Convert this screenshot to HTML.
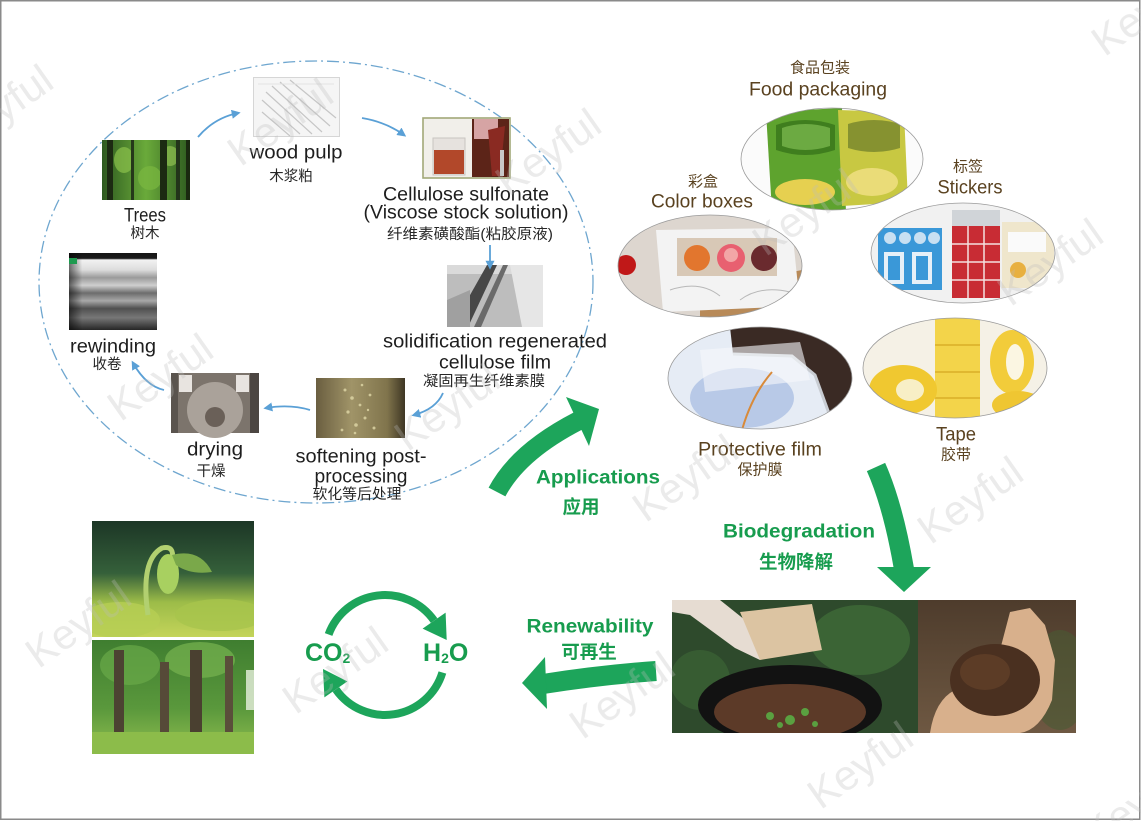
<!DOCTYPE html>
<html><head><meta charset="utf-8">
<style>
html,body{margin:0;padding:0;background:#fff;}
svg{display:block;}
text{font-family:"Liberation Sans","Noto Sans CJK SC",sans-serif;dominant-baseline:central;}
.en{font-size:19px;fill:#1e1e1e;}
.cn{font-size:14.5px;fill:#262626;}
.br{font-size:19px;fill:#5a4220;}
.brc{font-size:15px;fill:#5a4220;}
.g{font-size:19px;fill:#179c4e;font-weight:bold;}
.gc{font-size:18.5px;fill:#179c4e;font-weight:bold;}
</style></head><body>
<svg width="1141" height="821" viewBox="0 0 1141 821" xmlns="http://www.w3.org/2000/svg">
<defs>
  <marker id="ah" viewBox="0 0 10 10" refX="7" refY="5" markerWidth="5" markerHeight="5" orient="auto">
    <path d="M0,0 L10,5 L0,10 z" fill="#5aa0d6"/>
  </marker>
  <clipPath id="cFood"><ellipse cx="832" cy="159" rx="91" ry="51"/></clipPath>
  <clipPath id="cBox"><ellipse cx="710" cy="266" rx="92" ry="51"/></clipPath>
  <clipPath id="cStk"><ellipse cx="963" cy="253" rx="92" ry="50"/></clipPath>
  <clipPath id="cFilm"><ellipse cx="760" cy="378" rx="92" ry="51"/></clipPath>
  <clipPath id="cTape"><ellipse cx="955" cy="368" rx="92" ry="50"/></clipPath>
  <clipPath id="cSeed"><rect x="92" y="521" width="162" height="116"/></clipPath>
  <clipPath id="cFor"><rect x="92" y="640" width="162" height="114"/></clipPath>
  <clipPath id="cCompL"><rect x="672" y="600" width="246" height="133"/></clipPath>
  <clipPath id="cCompR"><rect x="918" y="600" width="158" height="133"/></clipPath>
  <linearGradient id="gRew" x1="0" y1="0" x2="0" y2="1">
    <stop offset="0" stop-color="#161616"/><stop offset="0.07" stop-color="#1a1a1a"/>
    <stop offset="0.09" stop-color="#f2f2f2"/><stop offset="0.22" stop-color="#dcdcdc"/>
    <stop offset="0.32" stop-color="#9a9a9a"/><stop offset="0.42" stop-color="#cfcfcf"/>
    <stop offset="0.52" stop-color="#6c6c6c"/><stop offset="0.62" stop-color="#a8a8a8"/>
    <stop offset="0.72" stop-color="#505050"/><stop offset="0.84" stop-color="#777"/>
    <stop offset="1" stop-color="#262626"/>
  </linearGradient>
  <linearGradient id="gRewL" x1="0" y1="0" x2="1" y2="0">
    <stop offset="0" stop-color="#000" stop-opacity=".55"/><stop offset="0.15" stop-color="#000" stop-opacity="0"/>
  </linearGradient>
  <linearGradient id="gSeed" x1="0" y1="0" x2="0" y2="1">
    <stop offset="0" stop-color="#1c3626"/><stop offset="0.45" stop-color="#35603a"/>
    <stop offset="0.7" stop-color="#9cbc48"/><stop offset="1" stop-color="#c4d45a"/>
  </linearGradient>
  <linearGradient id="gFor" x1="0" y1="0" x2="0" y2="1">
    <stop offset="0" stop-color="#3f7e30"/><stop offset="0.6" stop-color="#5a983c"/>
    <stop offset="0.85" stop-color="#7cb048"/><stop offset="1" stop-color="#8cc050"/>
  </linearGradient>
  <linearGradient id="gTree" x1="0" y1="0" x2="1" y2="0">
    <stop offset="0" stop-color="#2e5a20"/><stop offset="0.5" stop-color="#6aaa3a"/><stop offset="1" stop-color="#2e5a20"/>
  </linearGradient>
  <linearGradient id="gSoft" x1="0" y1="0" x2="1" y2="0">
    <stop offset="0" stop-color="#6a5e40"/><stop offset="0.4" stop-color="#a09468"/><stop offset="0.8" stop-color="#80744c"/><stop offset="1" stop-color="#3e3624"/>
  </linearGradient>
  <linearGradient id="gSoil" x1="0" y1="0" x2="0" y2="1">
    <stop offset="0" stop-color="#4e3c2c"/><stop offset="1" stop-color="#6e5842"/>
  </linearGradient>
</defs>

<!-- outer border -->
<rect x="0.75" y="0.75" width="1139" height="818.5" fill="#fff" stroke="#8a8a8a" stroke-width="1.5"/>

<!-- dashed ellipse -->
<ellipse cx="316" cy="282" rx="277" ry="221" fill="none" stroke="#6ea6cf" stroke-width="1.3" stroke-dasharray="12 4 2 4"/>

<!-- Trees photo -->
<g>
  <rect x="102" y="140" width="88" height="60" fill="url(#gTree)"/>
  <ellipse cx="124" cy="160" rx="10" ry="13" fill="#8cc24c" opacity=".7"/>
  <ellipse cx="150" cy="178" rx="12" ry="12" fill="#7ab840" opacity=".7"/>
  <ellipse cx="170" cy="156" rx="9" ry="10" fill="#9ccc58" opacity=".6"/>
  <rect x="107" y="140" width="6" height="60" fill="#1c2a12"/>
  <rect x="131" y="140" width="3" height="60" fill="#25381a"/>
  <rect x="160" y="140" width="7" height="60" fill="#1c2a12"/>
  <rect x="176" y="140" width="4" height="60" fill="#22341a"/>
  <rect x="186" y="140" width="4" height="60" fill="#1a2810"/>
</g>

<!-- wood pulp photo -->
<g>
  <rect x="253.5" y="77.5" width="86" height="59" fill="#f5f5f5" stroke="#d6d6d6"/>
  <path d="M262,100 L300,134 M266,92 L312,134 M272,86 L322,132 M280,82 L330,126 M290,80 L336,118 M262,112 L290,136" stroke="#c6c6c6" stroke-width="1.2" fill="none"/>
  <path d="M258,84 L334,84" stroke="#e2e2e2"/>
</g>

<!-- cellulose photo -->
<g>
  <rect x="423" y="118" width="87" height="60" fill="#f1efea" stroke="#a2a878" stroke-width="1.6"/>
  <rect x="433" y="138" width="32" height="37" fill="#e6e2de" stroke="#c8c4c0"/>
  <rect x="434" y="150" width="30" height="24" fill="#b2482a"/>
  <rect x="472" y="119" width="37" height="58" fill="#5c2418"/>
  <rect x="474" y="119" width="24" height="20" fill="#d6a4a4"/>
  <path d="M488,130 L505,126 L500,176 L492,176 z" fill="#8a2a22"/>
  <rect x="500" y="150" width="4" height="26" fill="#c8c8c8"/>
</g>

<!-- solidification photo -->
<g>
  <rect x="447" y="265" width="96" height="62" fill="#bdbdbd"/>
  <rect x="447" y="265" width="96" height="9" fill="#dadada"/>
  <path d="M452,327 L468,327 L497,265 L487,265 z" fill="#474747"/>
  <path d="M474,327 L481,327 L508,265 L503,265 z" fill="#6a6a6a"/>
  <path d="M510,265 L543,265 L543,327 L522,327 z" fill="#e6e6e6"/>
  <path d="M447,300 L470,290 L470,327 L447,327 z" fill="#a0a0a0"/>
</g>

<!-- softening photo -->
<g>
  <rect x="316" y="378" width="89" height="60" fill="url(#gSoft)"/>
  <g fill="#dcd4a4" opacity=".85">
    <circle cx="345" cy="390" r="1.5"/><circle cx="352" cy="398" r="1.8"/><circle cx="360" cy="405" r="1.4"/>
    <circle cx="348" cy="412" r="1.6"/><circle cx="365" cy="418" r="1.5"/><circle cx="356" cy="425" r="1.8"/>
    <circle cx="370" cy="395" r="1.4"/><circle cx="362" cy="385" r="1.3"/><circle cx="374" cy="428" r="1.5"/>
    <circle cx="342" cy="430" r="1.4"/><circle cx="368" cy="410" r="1.2"/><circle cx="355" cy="433" r="1.3"/>
  </g>
</g>

<!-- drying photo -->
<g>
  <rect x="171" y="373" width="88" height="60" fill="#7c746c"/>
  <circle cx="215" cy="410" r="28" fill="#aaa29a"/>
  <circle cx="215" cy="417" r="10" fill="#6a6058"/>
  <rect x="179" y="375" width="13" height="17" fill="#e8e4e0"/>
  <rect x="236" y="375" width="13" height="17" fill="#e8e4e0"/>
  <rect x="250" y="373" width="9" height="60" fill="#4c4642"/>
  <rect x="171" y="373" width="7" height="60" fill="#5a544e"/>
</g>

<!-- rewinding photo -->
<g>
  <rect x="69" y="253" width="88" height="77" fill="url(#gRew)"/>
  <rect x="69" y="253" width="88" height="77" fill="url(#gRewL)"/>
  <rect x="69" y="258" width="8" height="6" fill="#1f9a50"/>
</g>

<!-- blue connectors -->
<g fill="none" stroke="#5aa0d6" stroke-width="1.8" marker-end="url(#ah)">
  <path d="M198,137 Q214,118 238,113"/>
  <path d="M362,118 Q386,122 404,135"/>
  <path d="M490,245 L490,267"/>
  <path d="M443,393 Q436,409 414,415"/>
  <path d="M310,410 Q290,404 266,408"/>
  <path d="M164,390 Q146,386 133,363"/>
</g>

<!-- cycle labels -->
<text class="en" x="145" y="216" text-anchor="middle" textLength="42" lengthAdjust="spacingAndGlyphs">Trees</text>
<text class="cn" x="145" y="234" text-anchor="middle">树木</text>
<text class="en" x="296" y="153" text-anchor="middle" textLength="93" lengthAdjust="spacingAndGlyphs">wood pulp</text>
<text class="cn" x="291" y="177" text-anchor="middle">木浆粕</text>
<text class="en" x="466" y="195" text-anchor="middle" textLength="166" lengthAdjust="spacingAndGlyphs">Cellulose sulfonate</text>
<text class="en" x="466" y="213" text-anchor="middle" textLength="205" lengthAdjust="spacingAndGlyphs">(Viscose stock solution)</text>
<text class="cn" x="470" y="235" text-anchor="middle" textLength="166" lengthAdjust="spacingAndGlyphs">纤维素磺酸酯(粘胶原液)</text>
<text class="en" x="495" y="342" text-anchor="middle" textLength="224" lengthAdjust="spacingAndGlyphs">solidification regenerated</text>
<text class="en" x="495" y="363" text-anchor="middle" textLength="112" lengthAdjust="spacingAndGlyphs">cellulose film</text>
<text class="cn" x="484" y="382" text-anchor="middle" textLength="122" lengthAdjust="spacingAndGlyphs">凝固再生纤维素膜</text>
<text class="en" x="361" y="457" text-anchor="middle" textLength="131" lengthAdjust="spacingAndGlyphs">softening post-</text>
<text class="en" x="361" y="477" text-anchor="middle" textLength="93" lengthAdjust="spacingAndGlyphs">processing</text>
<text class="cn" x="357" y="495" text-anchor="middle" textLength="89" lengthAdjust="spacingAndGlyphs">软化等后处理</text>
<text class="en" x="215" y="450" text-anchor="middle" textLength="56" lengthAdjust="spacingAndGlyphs">drying</text>
<text class="cn" x="211" y="472" text-anchor="middle">干燥</text>
<text class="en" x="113" y="347" text-anchor="middle" textLength="86" lengthAdjust="spacingAndGlyphs">rewinding</text>
<text class="cn" x="107" y="365" text-anchor="middle">收卷</text>

<!-- Food packaging ellipse -->
<g clip-path="url(#cFood)">
  <rect x="740" y="108" width="184" height="102" fill="#fbfbfb"/>
  <path d="M766,112 L842,108 L846,212 L772,212 z" fill="#5ea32e"/>
  <path d="M776,125 Q805,115 835,125 L835,150 Q805,160 776,150 z" fill="#3f7e1e"/>
  <path d="M782,128 Q805,120 830,128 L830,146 Q805,154 782,146 z" fill="#8ac85a" opacity=".6"/>
  <ellipse cx="805" cy="192" rx="30" ry="13" fill="#e6d050"/>
  <path d="M838,110 L904,112 L908,202 L842,206 z" fill="#c8c842"/>
  <path d="M848,124 Q874,116 900,124 L900,148 Q874,156 848,148 z" fill="#6a7a2a" opacity=".7"/>
  <ellipse cx="872" cy="182" rx="26" ry="14" fill="#eadc78"/>
</g>
<ellipse cx="832" cy="159" rx="91" ry="51" fill="none" stroke="#9a9a9a" stroke-width="0.8"/>

<!-- Color boxes ellipse -->
<g clip-path="url(#cBox)">
  <rect x="618" y="215" width="184" height="102" fill="#ddd6cf"/>
  <path d="M700,290 L802,270 L802,317 L700,317 z" fill="#b88a58"/>
  <circle cx="626" cy="265" r="10" fill="#c01818"/>
  <path d="M656,230 L792,228 L800,306 L663,312 z" fill="#f3f3f3"/>
  <path d="M670,290 Q700,280 720,296 M740,300 Q760,285 790,292" stroke="#b8b8b8" fill="none"/>
  <rect x="677" y="238" width="100" height="38" fill="#d8c8b6"/>
  <circle cx="697" cy="258" r="13" fill="#e2762e"/>
  <circle cx="731" cy="258" r="14" fill="#e86070"/>
  <circle cx="731" cy="255" r="7" fill="#f2a6a6"/>
  <circle cx="764" cy="258" r="13" fill="#6a2a2e"/>
</g>
<ellipse cx="710" cy="266" rx="92" ry="51" fill="none" stroke="#9a9a9a" stroke-width="0.8"/>

<!-- Stickers ellipse -->
<g clip-path="url(#cStk)">
  <rect x="871" y="203" width="184" height="100" fill="#f1f1f1"/>
  <rect x="878" y="228" width="64" height="62" fill="#3a98d8"/>
  <circle cx="890" cy="238" r="6" fill="#c8e0f2"/><circle cx="905" cy="238" r="6" fill="#c8e0f2"/>
  <circle cx="920" cy="238" r="6" fill="#c8e0f2"/><circle cx="934" cy="238" r="6" fill="#c8e0f2"/>
  <rect x="884" y="252" width="20" height="32" fill="#e6f0f8"/><rect x="912" y="252" width="20" height="32" fill="#e6f0f8"/>
  <rect x="888" y="256" width="12" height="24" fill="#3a98d8"/><rect x="916" y="256" width="12" height="24" fill="#3a98d8"/>
  <rect x="952" y="210" width="48" height="18" fill="#d0d4d8"/>
  <rect x="952" y="226" width="48" height="72" fill="#c82c34"/>
  <path d="M952,244 H1000 M952,262 H1000 M952,280 H1000 M968,226 V298 M984,226 V298" stroke="#f4e0e0" stroke-width="1.5"/>
  <rect x="1002" y="222" width="52" height="66" fill="#efe6cc"/>
  <rect x="1008" y="232" width="38" height="20" fill="#fafafa"/>
  <circle cx="1018" cy="270" r="8" fill="#e8b040"/>
</g>
<ellipse cx="963" cy="253" rx="92" ry="50" fill="none" stroke="#9a9a9a" stroke-width="0.8"/>

<!-- Protective film ellipse -->
<g clip-path="url(#cFilm)">
  <rect x="668" y="327" width="184" height="102" fill="#e6ecf5"/>
  <ellipse cx="742" cy="398" rx="52" ry="30" fill="#9ab2de" opacity=".6"/>
  <path d="M730,327 L860,327 L860,430 L835,430 L815,375 L792,356 L733,354 z" fill="#3a2a24"/>
  <path d="M733,354 L792,356 L815,375 L835,430" stroke="#c8ccd2" stroke-width="3" fill="none"/>
  <path d="M700,350 L800,342 L810,380 L705,392 z" fill="#f6f8fb" opacity=".6"/>
  <path d="M742,430 Q752,395 772,372" stroke="#d88a3a" stroke-width="2" fill="none"/>
</g>
<ellipse cx="760" cy="378" rx="92" ry="51" fill="none" stroke="#9a9a9a" stroke-width="0.8"/>

<!-- Tape ellipse -->
<g clip-path="url(#cTape)">
  <rect x="863" y="318" width="184" height="100" fill="#f5f1e6"/>
  <rect x="935" y="318" width="45" height="100" fill="#f3d44a"/>
  <path d="M935,345 H980 M935,372 H980 M935,398 H980" stroke="#e0b830" stroke-width="2"/>
  <ellipse cx="903" cy="390" rx="34" ry="25" fill="#f0c830"/>
  <ellipse cx="910" cy="390" rx="14" ry="11" fill="#f8efc6"/>
  <ellipse cx="1012" cy="362" rx="22" ry="32" fill="#f2cc3a"/>
  <ellipse cx="1015" cy="362" rx="9" ry="18" fill="#fbf6e2"/>
  <ellipse cx="1018" cy="405" rx="26" ry="14" fill="#efc632"/>
</g>
<ellipse cx="955" cy="368" rx="92" ry="50" fill="none" stroke="#9a9a9a" stroke-width="0.8"/>

<!-- right labels -->
<text class="brc" x="820" y="68" text-anchor="middle">食品包装</text>
<text class="br" x="818" y="90" text-anchor="middle" textLength="138" lengthAdjust="spacingAndGlyphs">Food packaging</text>
<text class="brc" x="703" y="182" text-anchor="middle">彩盒</text>
<text class="br" x="702" y="202" text-anchor="middle" textLength="102" lengthAdjust="spacingAndGlyphs">Color boxes</text>
<text class="brc" x="968" y="167" text-anchor="middle">标签</text>
<text class="br" x="970" y="188" text-anchor="middle" textLength="65" lengthAdjust="spacingAndGlyphs">Stickers</text>
<text class="br" x="760" y="450" text-anchor="middle" textLength="124" lengthAdjust="spacingAndGlyphs">Protective film</text>
<text class="brc" x="760" y="470" text-anchor="middle">保护膜</text>
<text class="br" x="956" y="435" text-anchor="middle" textLength="40" lengthAdjust="spacingAndGlyphs">Tape</text>
<text class="brc" x="956" y="455" text-anchor="middle">胶带</text>

<!-- green arrows -->
<g fill="none" stroke="#1da55b" stroke-width="19">
  <path d="M497,492 Q518,452 578,421"/>
  <path d="M876,467 Q893,505 904,569" stroke-width="20"/>
  <path d="M656,671 Q600,675 543,684" stroke-width="20"/>
</g>
<g fill="#1da55b">
  <path d="M566,397 L599,409 L589,446 z"/>
  <path d="M877,567 L931,567 L904,592 z"/>
  <path d="M545,657 L522,683 L547,709 z"/>
</g>

<!-- green labels -->
<text class="g" x="598" y="478" text-anchor="middle" textLength="124" lengthAdjust="spacingAndGlyphs">Applications</text>
<text class="gc" x="581" y="507" text-anchor="middle">应用</text>
<text class="g" x="799" y="532" text-anchor="middle" textLength="152" lengthAdjust="spacingAndGlyphs">Biodegradation</text>
<text class="gc" x="796" y="562" text-anchor="middle">生物降解</text>
<text class="g" x="590" y="627" text-anchor="middle" textLength="127" lengthAdjust="spacingAndGlyphs">Renewability</text>
<text class="gc" x="589" y="652" text-anchor="middle">可再生</text>

<!-- CO2 / H2O cycle -->
<g fill="none" stroke="#1da55b" stroke-width="8">
  <path d="M328.6,634.5 A60,60 0 0 1 434.1,620.6"/>
  <path d="M442.4,672.5 A60,60 0 0 1 335.9,689.4"/>
</g>
<g fill="#1da55b">
  <path d="M445.6,612.6 L422.6,628.6 L446.7,640 z"/>
  <path d="M324.4,697.4 L347.4,681.4 L323,669 z"/>
</g>
<text x="305" y="653" style="font-size:25px;font-weight:bold;fill:#179c4e">CO<tspan style="font-size:14px" dy="5">2</tspan></text>
<text x="423" y="653" style="font-size:25px;font-weight:bold;fill:#179c4e">H<tspan style="font-size:14px" dy="5">2</tspan><tspan dy="-5">O</tspan></text>

<!-- seedling photo -->
<g clip-path="url(#cSeed)">
  <rect x="92" y="521" width="162" height="116" fill="url(#gSeed)"/>
  <ellipse cx="120" cy="620" rx="40" ry="18" fill="#b6ce54" opacity=".8"/>
  <ellipse cx="220" cy="615" rx="45" ry="16" fill="#a8c44c" opacity=".8"/>
  <path d="M148,615 Q140,560 162,548 Q175,545 172,560" stroke="#b2d070" stroke-width="5" fill="none"/>
  <ellipse cx="168" cy="574" rx="11" ry="20" fill="#a8d060"/>
  <path d="M172,555 Q200,548 212,572 Q190,575 176,565 z" fill="#7aa84a"/>
</g>

<!-- forest photo -->
<g clip-path="url(#cFor)">
  <rect x="92" y="640" width="162" height="114" fill="url(#gFor)"/>
  <ellipse cx="130" cy="665" rx="30" ry="20" fill="#6aaa48" opacity=".7"/>
  <ellipse cx="200" cy="660" rx="35" ry="18" fill="#78b450" opacity=".7"/>
  <rect x="114" y="650" width="10" height="88" fill="#4c4232"/>
  <rect x="160" y="662" width="9" height="76" fill="#564a38"/>
  <rect x="190" y="650" width="12" height="90" fill="#4a4030"/>
  <rect x="225" y="656" width="8" height="84" fill="#5a4e3a"/>
  <rect x="246" y="670" width="8" height="40" fill="#e8f0e0" opacity=".8"/>
  <rect x="92" y="732" width="162" height="22" fill="#8cbc4a"/>
</g>

<!-- compost photo -->
<g clip-path="url(#cCompL)">
  <rect x="672" y="600" width="246" height="133" fill="#2e4a2c"/>
  <ellipse cx="860" cy="640" rx="50" ry="35" fill="#3e6a38" opacity=".8"/>
  <ellipse cx="700" cy="680" rx="30" ry="30" fill="#3a6034" opacity=".8"/>
  <path d="M672,600 L720,600 L770,640 L760,660 L735,648 L690,615 L672,612 z" fill="#e6dcd2"/>
  <path d="M740,612 L812,604 L822,650 L760,660 z" fill="#dcc4a2"/>
  <ellipse cx="790" cy="705" rx="92" ry="40" fill="#121212"/>
  <ellipse cx="790" cy="712" rx="76" ry="28" fill="#5c3a28"/>
  <g fill="#5aa040"><circle cx="770" cy="716" r="4"/><circle cx="790" cy="720" r="5"/><circle cx="805" cy="712" r="4"/><circle cx="780" cy="725" r="3"/><circle cx="815" cy="724" r="3"/></g>
</g>
<g clip-path="url(#cCompR)">
  <rect x="918" y="600" width="158" height="133" fill="url(#gSoil)"/>
  <ellipse cx="1060" cy="680" rx="30" ry="50" fill="#4a5a34" opacity=".6"/>
  <path d="M930,733 Q935,700 955,690 L1000,650 L1010,612 L1030,608 L1045,625 L1055,660 L1052,700 Q1040,730 1020,733 z" fill="#d8b08c"/>
  <ellipse cx="995" cy="680" rx="45" ry="36" fill="#4a3020"/>
  <ellipse cx="985" cy="672" rx="25" ry="18" fill="#5c3c26"/>
</g>

<!-- watermarks -->
<g text-anchor="middle" style="font-size:42px;fill:#bbbbbb;opacity:.3">
  <text transform="translate(0,108) rotate(-35)">Keyful</text>
  <text transform="translate(280,122) rotate(-35)">Keyful</text>
  <text transform="translate(548,152) rotate(-35)">Keyful</text>
  <text transform="translate(160,377) rotate(-35)">Keyful</text>
  <text transform="translate(447,407) rotate(-35)">Keyful</text>
  <text transform="translate(1050,262) rotate(-35)">Keyful</text>
  <text transform="translate(805,212) rotate(-35)">Keyful</text>
  <text transform="translate(685,478) rotate(-35)">Keyful</text>
  <text transform="translate(970,500) rotate(-35)">Keyful</text>
  <text transform="translate(860,765) rotate(-35)">Keyful</text>
  <text transform="translate(1135,805) rotate(-35)">Keyful</text>
  <text transform="translate(1144,12) rotate(-35)">Keyful</text>
  <text transform="translate(78,624) rotate(-35)">Keyful</text>
  <text transform="translate(335,670) rotate(-35)">Keyful</text>
  <text transform="translate(622,695) rotate(-35)">Keyful</text>
</g>
</svg>
</body></html>
